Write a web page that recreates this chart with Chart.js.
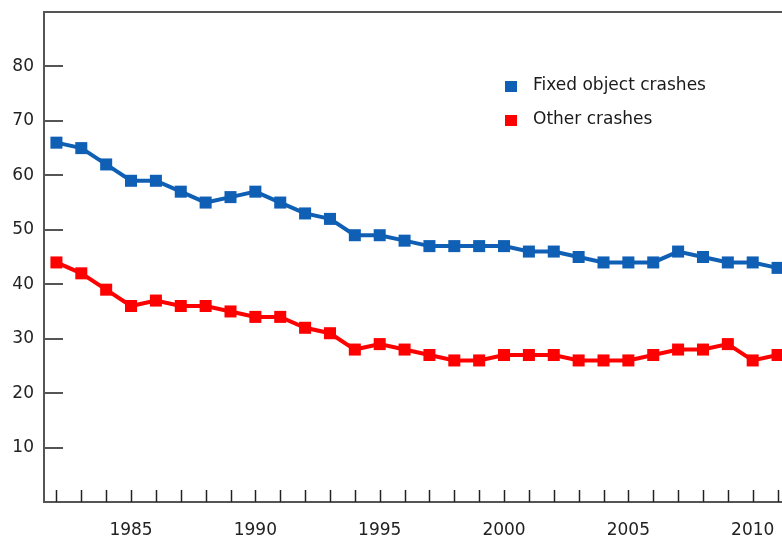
<!DOCTYPE html>
<html lang="en">
<head>
    <meta charset="UTF-8">
    <title>Fixed object crashes vs other crashes</title>
    <script src="https://cdn.jsdelivr.net/npm/chart.js"></script>
    <style>
        html, body { margin: 0; padding: 0; background: #fff; overflow: hidden; }
        canvas { display: block; }
    </style>
</head>
<body>
    <canvas id="crashChart" width="800" height="539"></canvas>

    <script>
        // Годы и значения серий
        const years = [1982, 1983, 1984, 1985, 1986, 1987, 1988, 1989, 1990, 1991,
                       1992, 1993, 1994, 1995, 1996, 1997, 1998, 1999, 2000, 2001,
                       2002, 2003, 2004, 2005, 2006, 2007, 2008, 2009, 2010, 2011];
        const fixedObject = [66, 65, 62, 59, 59, 57, 55, 56, 57, 55,
                             53, 52, 49, 49, 48, 47, 47, 47, 47, 46,
                             46, 45, 44, 44, 44, 46, 45, 44, 44, 43];
        const otherCrashes = [44, 42, 39, 36, 37, 36, 36, 35, 34, 34,
                              32, 31, 28, 29, 28, 27, 26, 26, 27, 27,
                              27, 26, 26, 26, 27, 28, 28, 29, 26, 27];
        const yTickLabels = [10, 20, 30, 40, 50, 60, 70, 80];
        const xTickLabels = [1985, 1990, 1995, 2000, 2005, 2010];

        const BLUE = '#0f5fb5';
        const RED = '#ff0000';
        const AXIS = '#555555';
        const FONT = '"DejaVu Sans", sans-serif';

        // Рамка, засечки внутрь и легенда
        const framePlugin = {
            id: 'frame',
            beforeDatasetsDraw(chart) {
                const ctx = chart.ctx;
                const area = chart.chartArea;
                const xs = chart.scales.x;
                const ys = chart.scales.y;
                ctx.save();
                ctx.strokeStyle = AXIS;
                ctx.lineWidth = 2;
                ctx.beginPath();
                ctx.moveTo(area.right + 20, area.top);
                ctx.lineTo(area.left, area.top);
                ctx.lineTo(area.left, area.bottom);
                ctx.lineTo(area.right + 20, area.bottom);
                ctx.stroke();

                // засечки оси Y
                yTickLabels.forEach(v => {
                    const y = Math.round(ys.getPixelForValue(v));
                    ctx.beginPath();
                    ctx.moveTo(area.left, y);
                    ctx.lineTo(area.left + 19, y);
                    ctx.stroke();
                });
                // засечки оси X - каждый год
                ctx.strokeStyle = '#222';
                ctx.lineWidth = 1.5;
                years.forEach(yr => {
                    const x = Math.round(xs.getPixelForValue(yr)) + 0.5;
                    ctx.beginPath();
                    ctx.moveTo(x, area.bottom);
                    ctx.lineTo(x, area.bottom - 12);
                    ctx.stroke();
                });
                ctx.restore();
            },
            afterDraw(chart) {
                const ctx = chart.ctx;
                ctx.save();
                ctx.font = '17px ' + FONT;
                ctx.textBaseline = 'middle';
                chart.data.datasets.forEach((ds, i) => {
                    const y = 86 + i * 34;
                    ctx.fillStyle = ds.borderColor;
                    ctx.fillRect(505, y - 5, 12, 11);
                    ctx.fillStyle = '#1a1a1a';
                    ctx.fillText(ds.label, 533, y);
                });
                ctx.restore();
            }
        };

        const ctx = document.getElementById('crashChart').getContext('2d');
        new Chart(ctx, {
            type: 'line',
            data: {
                datasets: [
                    {
                        label: 'Fixed object crashes',
                        data: years.map((yr, i) => ({ x: yr, y: fixedObject[i] })),
                        borderColor: BLUE,
                        backgroundColor: BLUE,
                        borderWidth: 4,
                        pointStyle: 'rect',
                        pointRadius: 8.5,
                        pointBorderWidth: 0,
                        tension: 0
                    },
                    {
                        label: 'Other crashes',
                        data: years.map((yr, i) => ({ x: yr, y: otherCrashes[i] })),
                        borderColor: RED,
                        backgroundColor: RED,
                        borderWidth: 4,
                        pointStyle: 'rect',
                        pointRadius: 8.5,
                        pointBorderWidth: 0,
                        tension: 0
                    }
                ]
            },
            options: {
                responsive: false,
                animation: false,
                devicePixelRatio: 1,
                layout: { padding: { top: 12, right: 10, left: 0, bottom: 0 } },
                plugins: {
                    legend: { display: false },
                    tooltip: { enabled: false }
                },
                scales: {
                    x: {
                        type: 'linear',
                        min: 1981.5,
                        max: 2011.5,
                        afterFit(scale) {
                            scale.height = 37;
                            scale.paddingLeft = 0;
                            scale.paddingRight = 0;
                        },
                        afterBuildTicks(scale) {
                            scale.ticks = xTickLabels.map(v => ({ value: v }));
                        },
                        grid: { display: false, drawTicks: false },
                        border: { display: false },
                        ticks: {
                            autoSkip: false,
                            maxRotation: 0,
                            padding: 18,
                            color: '#222',
                            font: { family: FONT, size: 17 },
                            callback: v => String(v)
                        }
                    },
                    y: {
                        min: 0,
                        max: 90,
                        afterFit(scale) {
                            scale.width = 44;
                            scale.paddingTop = 0;
                            scale.paddingBottom = 0;
                        },
                        afterBuildTicks(scale) {
                            scale.ticks = yTickLabels.map(v => ({ value: v }));
                        },
                        grid: { display: false, drawTicks: false },
                        border: { display: false },
                        ticks: {
                            autoSkip: false,
                            padding: 10,
                            color: '#222',
                            font: { family: FONT, size: 17 },
                            callback: v => String(v)
                        }
                    }
                }
            },
            plugins: [framePlugin]
        });
    </script>
</body>
</html>
